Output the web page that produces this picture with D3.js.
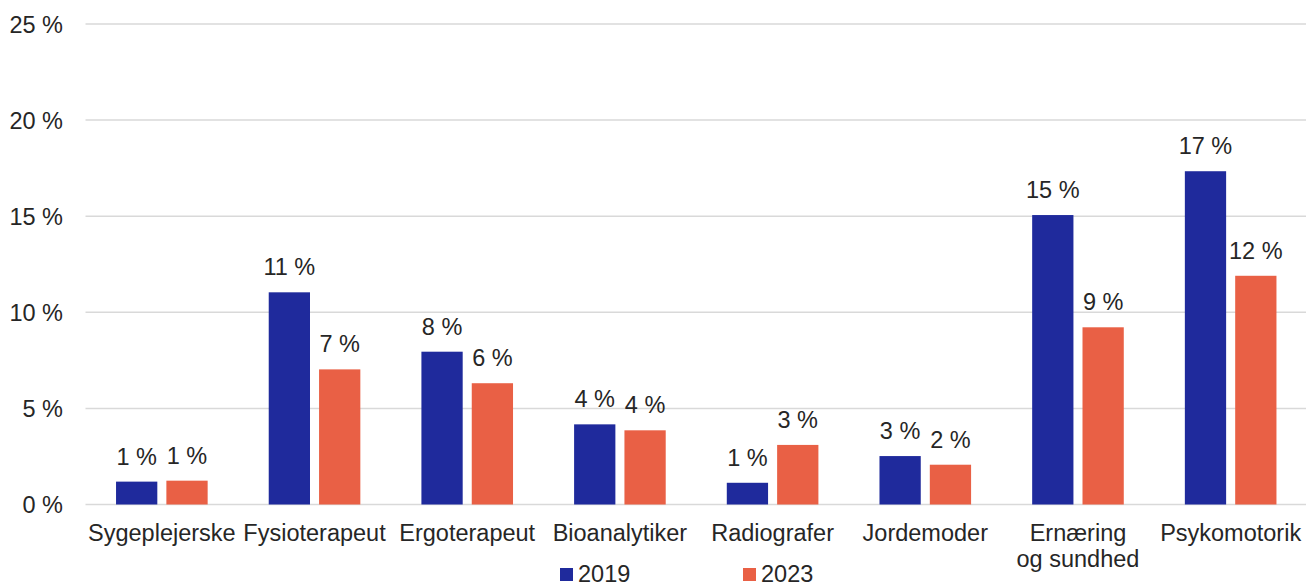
<!DOCTYPE html>
<html><head><meta charset="utf-8">
<script src="https://cdn.jsdelivr.net/npm/d3@7"></script>
<style>body{margin:0;background:#fff}svg{display:block}</style>
</head><body><svg id="c" width="1306" height="585"></svg>
<script>
const categories = ["Sygeplejerske","Fysioterapeut","Ergoterapeut","Bioanalytiker","Radiografer","Jordemoder","Ernæring\nog sundhed","Psykomotorik"];
const seriesNames = ["2019","2023"];
const values2019 = [1.19, 11.04, 7.95, 4.17, 1.13, 2.52, 15.06, 17.34];
const values2023 = [1.24, 7.03, 6.31, 3.86, 3.10, 2.07, 9.22, 11.9];
const yTicks = [0,5,10,15,20,25];
const colors = ["#1f2a9c","#e96045"];

(function(){
const svg = d3.select("#c");
const font = "'Liberation Sans', Arial, sans-serif";
const textColor = "#262626";
const fs = 23.5;
const pLeft = 85.5, pRight = 1307, pTop = 24, pBottom = 504.5;

const x = d3.scaleBand().domain(categories).range([pLeft, pRight]).paddingInner(0.4).paddingOuter(0.2);
const xs = d3.scaleBand().domain(seriesNames).range([0, x.bandwidth()]).paddingInner(0.18);
const y = d3.scaleLinear().domain([0,25]).range([pBottom, pTop]);

svg.append("g").selectAll("line").data(yTicks).join("line")
  .attr("x1", pLeft).attr("x2", pRight)
  .attr("y1", d => y(d)).attr("y2", d => y(d))
  .attr("stroke", "#d9d9d9").attr("stroke-width", 1.5);

const yAxis = d3.axisLeft(y).tickValues(yTicks).tickFormat(d => d + " %").tickSize(0).tickPadding(0);
const ga = svg.append("g").attr("transform", `translate(63,0)`).call(yAxis);
ga.select(".domain").remove();
ga.selectAll("text").attr("font-family", font).attr("font-size", fs).attr("fill", textColor).attr("dy", "0.35em");

const data = [values2019, values2023];
const groups = svg.append("g").selectAll("g").data(seriesNames).join("g").attr("fill", (d,i) => colors[i]);
groups.each(function(s, si){
  const g = d3.select(this);
  g.selectAll("rect").data(data[si]).join("rect")
    .attr("x", (d,i) => x(categories[i]) + xs(s))
    .attr("width", xs.bandwidth())
    .attr("y", d => y(d))
    .attr("height", d => y(0) - y(d));
  g.selectAll("text").data(data[si]).join("text")
    .attr("x", (d,i) => x(categories[i]) + xs(s) + xs.bandwidth()/2)
    .attr("y", d => y(d) - 17)
    .attr("text-anchor", "middle")
    .attr("font-family", font).attr("font-size", fs).attr("fill", textColor)
    .text(d => Math.round(d) + " %");
});

const xl = svg.append("g").selectAll("text").data(categories).join("text")
  .attr("x", d => x(d) + x.bandwidth()/2)
  .attr("y", 541)
  .attr("text-anchor", "middle")
  .attr("font-family", font).attr("font-size", fs).attr("fill", textColor);
xl.each(function(d){
  const t = d3.select(this);
  d.split("\n").forEach((line, i) => {
    t.append("tspan").attr("x", x(d) + x.bandwidth()/2).attr("dy", i ? 26 : 0).text(line);
  });
});

const legX = [560, 743];
const leg = svg.append("g").selectAll("g").data(seriesNames).join("g")
  .attr("transform", (d,i) => `translate(${legX[i]},0)`);
leg.append("rect").attr("x", 0).attr("y", 568).attr("width", 13).attr("height", 13).attr("fill", (d,i) => colors[i]);
leg.append("text").attr("x", 18).attr("y", 581.5).attr("font-family", font).attr("font-size", fs).attr("fill", textColor).text(d => d);
})();
</script></body></html>
